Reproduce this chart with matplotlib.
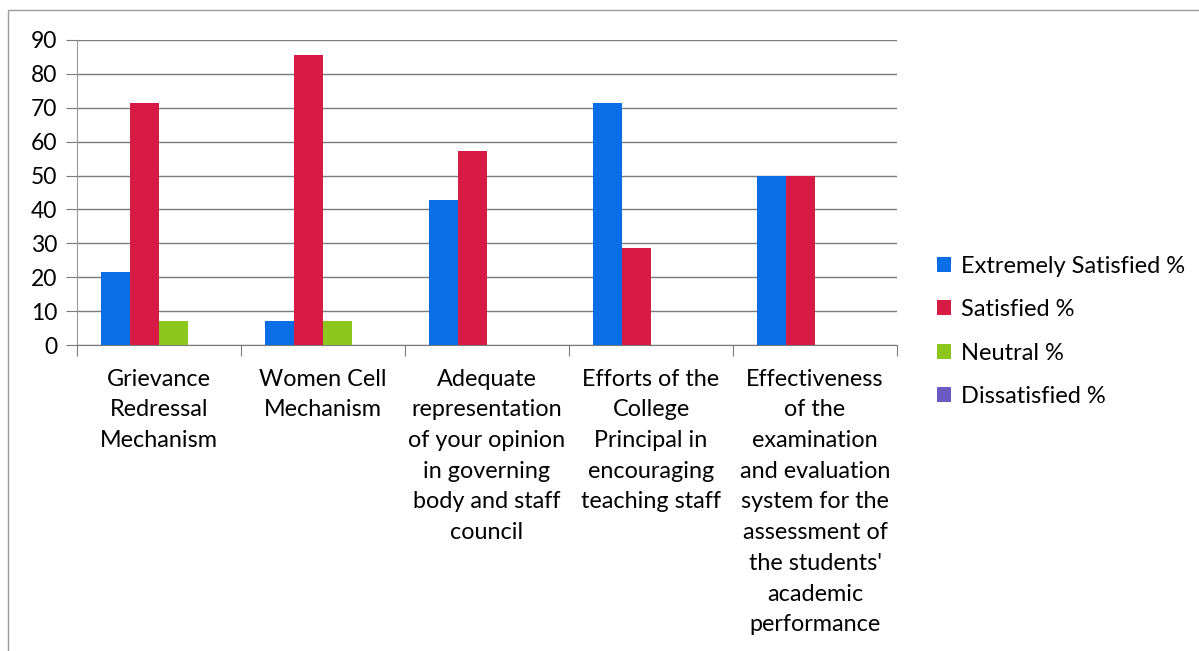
import matplotlib
matplotlib.use("Agg")
import matplotlib.pyplot as plt
import numpy as np
from matplotlib.patches import Rectangle

categories = [
    "Grievance\nRedressal\nMechanism",
    "Women Cell\nMechanism",
    "Adequate\nrepresentation\nof your opinion\nin governing\nbody and staff\ncouncil",
    "Efforts of the\nCollege\nPrincipal in\nencouraging\nteaching staff",
    "Effectiveness\nof the\nexamination\nand evaluation\nsystem for the\nassessment of\nthe students'\nacademic\nperformance",
]
series_names = ["Extremely Satisfied %", "Satisfied %", "Neutral %", "Dissatisfied %"]
extremely_satisfied = [21.43, 7.14, 42.86, 71.43, 50.0]
satisfied = [71.43, 85.71, 57.14, 28.57, 50.0]
neutral = [7.14, 7.14, 0, 0, 0]
dissatisfied = [0, 0, 0, 0, 0]
yticks = [0, 10, 20, 30, 40, 50, 60, 70, 80, 90]

colors = ["#0A6FE6", "#D81B45", "#8DC71E", "#6A5BC4"]
plt.rcParams['font.family'] = ['Lato', 'DejaVu Sans']

fig = plt.figure(figsize=(11.99, 6.51), dpi=100)
fig.patches.append(Rectangle((8/1199, -0.1), 1.2, 1 - 10/651 + 0.1, transform=fig.transFigure,
                             fill=False, edgecolor="#9a9a9a", linewidth=1.0))
ax = fig.add_axes([77/1199, 1 - 345/651, 820/1199, 305/651])

data = [extremely_satisfied, satisfied, neutral, dissatisfied]
x = np.arange(len(categories))
w = 0.177
for i, (vals, name) in enumerate(zip(data, series_names)):
    ax.bar(x + (i - 1.5) * w, vals, width=w, color=colors[i], label=name, zorder=3)

ax.set_xlim(-0.5, len(categories) - 0.5)
ax.set_ylim(0, 90)
ax.set_yticks(yticks)
ax.set_yticklabels([str(t) for t in yticks], fontsize=16.5)
ax.yaxis.grid(True, color="#7a7a7a", linewidth=1.0, zorder=0)
ax.tick_params(axis='y', length=8, color="#7a7a7a", pad=6)
ax.set_xticks(np.arange(-0.5, len(categories), 1.0))
ax.set_xticklabels([])
ax.tick_params(axis='x', length=8, color="#7a7a7a", direction='out')
for s in ["top", "right"]:
    ax.spines[s].set_visible(False)
ax.spines["left"].set_color("#9a9a9a")
ax.spines["bottom"].set_color("#7a7a7a")

for xi, lab in zip(x, categories):
    ax.text(xi, -7.0, lab, ha='center', va='top', fontsize=16.8, linespacing=1.57,
            transform=ax.transData, clip_on=False)

leg = fig.legend(loc='center left', bbox_to_anchor=(937/1199, 1 - 331.5/651), frameon=False,
                 fontsize=17, handlelength=0.6, handleheight=0.6, handletextpad=0.4,
                 labelspacing=0.95, borderpad=0, borderaxespad=0)

fig.savefig("out.png", dpi=100)
